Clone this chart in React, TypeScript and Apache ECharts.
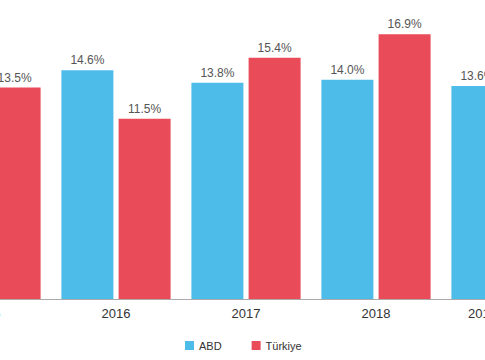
import React, { useEffect, useRef } from "react";
import * as echarts from "echarts";

const years = ["2015", "2016", "2017", "2018", "2019"];
const abd = [13.3, 14.6, 13.8, 14.0, 13.6];
const turkiye = [13.5, 11.5, 15.4, 16.9, 14.2];

const OFFSET = 79;

export default function App() {
  const ref = useRef<HTMLDivElement>(null);
  useEffect(() => {
    if (!ref.current) return;
    const chart = echarts.init(ref.current, undefined, { renderer: "svg" });
    const label = {
      show: true,
      position: "top" as const,
      distance: 4,
      color: "#555",
      fontSize: 12,
      fontFamily: "Liberation Sans, Arial, sans-serif",
      formatter: (p: any) => p.value.toFixed(1) + "%",
    };
    const lastIdx = years.length - 1;
    chart.setOption({
      animation: false,
      textStyle: { fontFamily: "Liberation Sans, Arial, sans-serif" },
      grid: { left: 0, right: 0, top: 17, bottom: 61, containLabel: false },
      xAxis: {
        type: "category",
        data: years.map((y, i) =>
          i === lastIdx ? { value: y, textStyle: { padding: [0, 47, 0, 0] } } : y
        ),
        axisLine: { lineStyle: { color: "#aaa", width: 1 } },
        axisTick: { show: false },
        axisLabel: { color: "#333", fontSize: 13, margin: 8 },
      },
      yAxis: {
        type: "value",
        min: 0,
        max: 18,
        show: false,
        splitLine: { show: false },
      },
      legend: {
        bottom: 4,
        left: 180 + OFFSET,
        itemWidth: 9,
        itemHeight: 9,
        itemGap: 30,
        icon: "rect",
        textStyle: { color: "#333", fontSize: 11 },
        data: ["ABD", "Türkiye"],
      },
      graphic: [
        {
          type: "line",
          shape: { x1: 180 + OFFSET, y1: 3.5, x2: 292 + OFFSET, y2: 3.5 },
          style: {
            lineWidth: 1,
            stroke: new echarts.graphic.LinearGradient(0, 0, 1, 0, [
              { offset: 0, color: "rgba(120,200,190,0.7)" },
              { offset: 0.5, color: "rgba(235,110,130,0.7)" },
              { offset: 1, color: "rgba(240,200,190,0.3)" },
            ]),
          },
        },
      ],
      series: [
        {
          name: "ABD",
          type: "bar",
          data: abd,
          barWidth: 52,
          barGap: "10%",
          itemStyle: { color: "#4EBCE8" },
          label,
        },
        {
          name: "Türkiye",
          type: "bar",
          data: turkiye,
          barWidth: 52,
          itemStyle: { color: "#E94B58" },
          label,
        },
      ],
    });
    return () => chart.dispose();
  }, []);
  return (
    <div style={{ position: "absolute", left: 0, top: 0, width: 485, height: 360, overflow: "hidden" }}>
      <div ref={ref} style={{ position: "absolute", left: -OFFSET, top: 0, width: 650, height: 360 }} />
    </div>
  );
}
